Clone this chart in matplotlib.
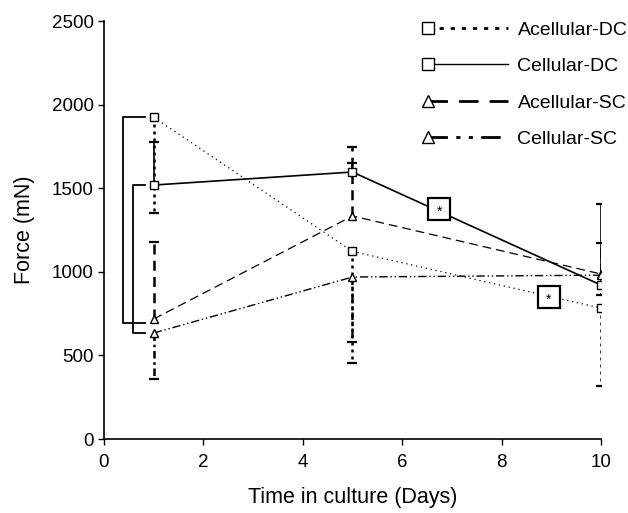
import matplotlib
matplotlib.use("Agg")
import matplotlib.pyplot as plt
from matplotlib.lines import Line2D
from matplotlib.legend_handler import HandlerLine2D

plt.rcParams['font.family'] = ['Liberation Sans', 'DejaVu Sans']

# ---- data ----
days = [1, 5, 10]
series_names = ["Acellular-DC", "Cellular-DC", "Acellular-SC", "Cellular-SC"]
acellular_dc = [1925, 1122, 783]
cellular_dc = [1519, 1597, 921]
acellular_sc = [718, 1334, 987]
cellular_sc = [634, 969, 980]
# error bar ends (lower, upper) in mN
acellular_dc_lo = [1352, 455, 317]
acellular_dc_hi = [1925, 1122, 783]
cellular_dc_lo = [1519, 1597, 921]
cellular_dc_hi = [1776, 1651, 1405]
acellular_sc_lo = [718, 1334, 987]
acellular_sc_hi = [1178, 1746, 1170]
cellular_sc_lo = [360, 580, 861]
cellular_sc_hi = [634, 969, 980]
# significance markers (x in days, y in mN)
star_x = [6.75, 8.95]
star_y = [1376, 849]
x_ticks = [0, 2, 4, 6, 8, 10]
y_ticks = [0, 500, 1000, 1500, 2000, 2500]

fig = plt.figure(figsize=(6.28, 5.13), dpi=100)
ax = fig.add_axes([0.1656, 0.1442, 0.7914, 0.8148])

styles = {
    "Acellular-DC": dict(marker='s', line=(0, (1, 3)), lw=0.9, eb=(0, (1.2, 1.6)), eblw=1.8,
                         leg=(0, (1.5, 2.5)), leglw=2.0),
    "Cellular-DC": dict(marker='s', line='-', lw=1.2, eb='-', eblw=1.2,
                        leg='-', leglw=1.0),
    "Acellular-SC": dict(marker='^', line=(0, (7, 4)), lw=0.9, eb=(0, (4, 2.5)), eblw=1.8,
                         leg=(0, (7, 4)), leglw=2.0),
    "Cellular-SC": dict(marker='^', line=(0, (6, 2, 1, 2, 1, 2)), lw=1.0, eb=(0, (3, 1.5, 1, 1.5)), eblw=1.8,
                        leg=(0, (7, 3, 1.5, 3, 1.5, 3)), leglw=2.0),
}
vals = {"Acellular-DC": acellular_dc, "Cellular-DC": cellular_dc,
        "Acellular-SC": acellular_sc, "Cellular-SC": cellular_sc}
los = {"Acellular-DC": acellular_dc_lo, "Cellular-DC": cellular_dc_lo,
       "Acellular-SC": acellular_sc_lo, "Cellular-SC": cellular_sc_lo}
his = {"Acellular-DC": acellular_dc_hi, "Cellular-DC": cellular_dc_hi,
       "Acellular-SC": acellular_sc_hi, "Cellular-SC": cellular_sc_hi}

# error bars (one-sided)
for name in series_names:
    st = styles[name]
    for x, v, lo, hi in zip(days, vals[name], los[name], his[name]):
        for end in (lo, hi):
            if end != v:
                ax.plot([x, x], [v, end], color='black', lw=st['eblw'], linestyle=st['eb'],
                        solid_capstyle='butt', dash_capstyle='butt', zorder=2)
                ax.plot([x], [end], marker='_', markersize=7, mew=1.6, color='black', zorder=2)

# lines + markers
for name in series_names:
    st = styles[name]
    ax.plot(days, vals[name], color='black', lw=st['lw'], linestyle=st['line'], zorder=3)
    ax.plot(days, vals[name], linestyle='none', marker=st['marker'], markersize=5.5,
            markerfacecolor='white', markeredgecolor='black', markeredgewidth=1.0, zorder=4)

# brackets at day 1
def bracket(xv, xh, y0, y1):
    ax.plot([xh, xv, xv, xh], [y0, y0, y1, y1], color='black', lw=1.3, clip_on=False, zorder=1)

bracket(0.38, 0.83, acellular_dc[0], acellular_sc[0] - 25)
bracket(0.58, 0.83, cellular_dc[0], cellular_sc[0])

# significance boxes
for sx, sy in zip(star_x, star_y):
    ax.plot([sx], [sy], marker='s', markersize=16, markerfacecolor='white',
            markeredgecolor='black', markeredgewidth=1.6, linestyle='none', zorder=5)
    ax.text(sx, sy - 15, "*", ha='center', va='center', fontsize=10, zorder=6)

ax.set_xlim(0, 10)
ax.set_ylim(0, 2500)
ax.set_xticks(x_ticks)
ax.set_yticks(y_ticks)
ax.tick_params(direction='out', length=4, width=1, labelsize=13.5)
ax.tick_params(axis='x', pad=7)
for s in ['top', 'right']:
    ax.spines[s].set_visible(False)
for s in ['left', 'bottom']:
    ax.spines[s].set_linewidth(1.2)
ax.set_xlabel("Time in culture (Days)", fontsize=15.5, labelpad=11)
ax.set_ylabel("Force (mN)", fontsize=15.5, labelpad=12)


class LeftMarker(HandlerLine2D):
    def create_artists(self, legend, orig_handle, xdescent, ydescent, width, height, fontsize, trans):
        arts = super().create_artists(legend, orig_handle, xdescent, ydescent, width, height, fontsize, trans)
        for a in arts:
            a.set_markevery([0])
        return arts


handles = []
for name in series_names:
    st = styles[name]
    h = Line2D([], [], color='black', lw=st['leglw'], linestyle=st['leg'],
               marker=st['marker'], markersize=9, markerfacecolor='white',
               markeredgecolor='black', markeredgewidth=1.0)
    handles.append(h)
leg = ax.legend(handles, series_names, loc='upper left', bbox_to_anchor=(0.652, 1.0),
                frameon=False, fontsize=14, handlelength=4.1, handletextpad=0.5,
                labelspacing=0.97, numpoints=1, borderpad=0, borderaxespad=0,
                handler_map={Line2D: LeftMarker(numpoints=1)})

fig.savefig("out.png", dpi=100)
